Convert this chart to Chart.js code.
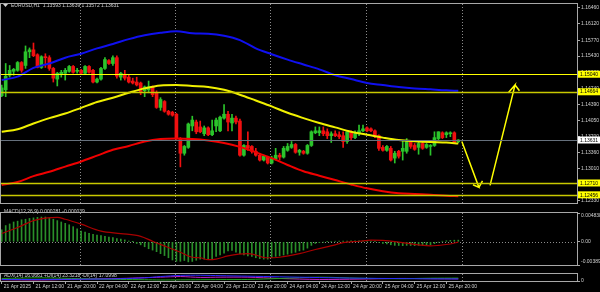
<!doctype html>
<html lang="en">
<head>
<meta charset="utf-8">
<title>EURUSD,H1</title>
<script src="https://cdn.jsdelivr.net/npm/chart.js@4.4.1/dist/chart.umd.min.js"></script>
<style>
  html, body { margin: 0; padding: 0; background: #000; }
  #wrap { position: relative; width: 600px; height: 292px; background: #000; overflow: hidden; }
  .pane { position: absolute; left: 0; width: 600px; }
</style>
</head>
<body>
<div id="wrap">
  <div class="pane" style="top:0;height:207px"><canvas id="priceChart"></canvas></div>
  <div class="pane" style="top:206px;height:66px"><canvas id="macdChart"></canvas></div>
  <div class="pane" style="top:270px;height:22px"><canvas id="adxChart"></canvas></div>
</div>
<script>
// ---- data (H1 bars, 21 Apr 04:00 .. 25 Apr 23:00) ----
const opens = [1.14580,1.14706,1.15019,1.15103,1.15124,1.15291,1.15228,1.15521,1.15563,1.15458,
  1.15186,1.15416,1.15395,1.15165,1.14936,1.15040,1.15061,1.15103,1.15207,1.15103,
  1.15124,1.15061,1.15207,1.15124,1.14873,1.14936,1.15165,1.15333,1.15270,1.15395,
  1.14977,1.15040,1.14977,1.14894,1.14873,1.14852,1.14685,1.14706,1.14768,1.14643,
  1.14329,1.14455,1.14246,1.14225,1.14183,1.13661,1.13347,1.13473,1.13932,1.14016,
  1.13911,1.13765,1.13891,1.13744,1.13932,1.13828,1.14100,1.14183,1.13995,1.14100,
  1.14037,1.13305,1.13514,1.13493,1.13389,1.13305,1.13201,1.13264,1.13138,1.13222,
  1.13305,1.13264,1.13410,1.13473,1.13535,1.13368,1.13389,1.13347,1.13514,1.13786,
  1.13786,1.13828,1.13807,1.13723,1.13765,1.13744,1.13723,1.13598,1.13807,1.13682,
  1.13765,1.13828,1.13891,1.13870,1.13828,1.13723,1.13473,1.13410,1.13452,1.13243,
  1.13389,1.13389,1.13389,1.13598,1.13514,1.13473,1.13556,1.13473,1.13493,1.13514,
  1.13661,1.13786,1.13744,1.13765,1.13786,1.13593];
const highs = [1.14810,1.15270,1.15228,1.15165,1.15312,1.15312,1.15646,1.15604,1.15709,1.15479,
  1.15437,1.15479,1.15437,1.15186,1.15082,1.15124,1.15165,1.15228,1.15228,1.15165,
  1.15145,1.15228,1.15228,1.15145,1.14956,1.15186,1.15395,1.15354,1.15437,1.15437,
  1.15082,1.15124,1.15019,1.14956,1.14977,1.14873,1.14789,1.14894,1.14789,1.14685,
  1.14538,1.14476,1.14267,1.14246,1.14204,1.13682,1.13514,1.13995,1.14141,1.14058,
  1.14037,1.13932,1.13911,1.14058,1.14100,1.14141,1.14392,1.14246,1.14183,1.14141,
  1.14079,1.13535,1.13807,1.13514,1.13452,1.13347,1.13305,1.13284,1.13284,1.13452,
  1.13347,1.13493,1.13556,1.13598,1.13556,1.13431,1.13410,1.13535,1.13828,1.13911,
  1.13911,1.13911,1.13870,1.13807,1.13828,1.13807,1.13807,1.13828,1.13828,1.13828,
  1.13953,1.13953,1.13911,1.13891,1.13849,1.13744,1.13514,1.13514,1.13493,1.13389,
  1.13410,1.13619,1.13661,1.13619,1.13556,1.13598,1.13598,1.13556,1.13535,1.13807,
  1.13807,1.13807,1.13807,1.13807,1.13807,1.13639];
const lows = [1.14559,1.14559,1.14977,1.15019,1.15103,1.15082,1.15165,1.15395,1.15416,1.15176,
  1.15165,1.15186,1.15124,1.14873,1.14789,1.14977,1.14915,1.15082,1.15061,1.15061,
  1.15040,1.15040,1.15061,1.14852,1.14852,1.14915,1.15145,1.15249,1.15228,1.14956,
  1.14915,1.14915,1.14852,1.14831,1.14789,1.14601,1.14559,1.14643,1.14559,1.14309,
  1.14267,1.14225,1.14162,1.14141,1.13640,1.13055,1.13305,1.13452,1.13828,1.13765,
  1.13786,1.13723,1.13723,1.13723,1.13807,1.13807,1.14079,1.13828,1.13828,1.13974,
  1.13284,1.13284,1.13410,1.13347,1.13284,1.13180,1.13180,1.13117,1.13117,1.13201,
  1.13201,1.13243,1.13389,1.13452,1.13347,1.13305,1.13326,1.13326,1.13493,1.13765,
  1.13723,1.13723,1.13661,1.13577,1.13702,1.13661,1.13473,1.13556,1.13619,1.13661,
  1.13723,1.13807,1.13807,1.13807,1.13682,1.13410,1.13389,1.13389,1.13180,1.13138,
  1.13243,1.13201,1.13347,1.13452,1.13410,1.13326,1.13431,1.13452,1.13305,1.13493,
  1.13619,1.13661,1.13682,1.13702,1.13556,1.13572];
const closes = [1.14747,1.14998,1.15124,1.15145,1.15291,1.15124,1.15521,1.15563,1.15437,1.15186,
  1.15416,1.15395,1.15165,1.14956,1.15061,1.15082,1.15124,1.15207,1.15082,1.15124,
  1.15061,1.15207,1.15082,1.14873,1.14936,1.15165,1.15354,1.15270,1.15395,1.14998,
  1.15061,1.14956,1.14873,1.14852,1.14810,1.14664,1.14768,1.14768,1.14601,1.14329,
  1.14497,1.14246,1.14183,1.14162,1.13661,1.13347,1.13493,1.13974,1.14058,1.13807,
  1.13807,1.13891,1.13744,1.13828,1.14058,1.14120,1.14183,1.14016,1.14100,1.14016,
  1.13305,1.13514,1.13452,1.13389,1.13305,1.13201,1.13284,1.13138,1.13243,1.13305,
  1.13264,1.13452,1.13493,1.13535,1.13368,1.13410,1.13347,1.13514,1.13807,1.13828,
  1.13828,1.13765,1.13723,1.13765,1.13723,1.13702,1.13598,1.13807,1.13682,1.13765,
  1.13828,1.13870,1.13828,1.13828,1.13702,1.13452,1.13410,1.13493,1.13201,1.13347,
  1.13284,1.13452,1.13598,1.13493,1.13431,1.13556,1.13452,1.13535,1.13514,1.13682,
  1.13807,1.13682,1.13786,1.13786,1.13577,1.13631];

// moving averages, sampled along the bars
const maIdx = [0,4,8,12,16,20,24,28,32,36,40,44,48,52,56,60,64,68,72,76,80,84,88,92,96,100,104,108,112,115];
const blueMA = [1.14915,1.14988,1.15176,1.15270,1.15395,1.15479,1.15594,1.15688,1.15793,1.15877,
  1.15929,1.15960,1.15918,1.15908,1.15866,1.15772,1.15594,1.15469,1.15354,1.15249,
  1.15145,1.15019,1.14936,1.14852,1.14810,1.14768,1.14737,1.14716,1.14695,1.14685];
const yellowMA = [1.13807,1.13860,1.13985,1.14100,1.14198,1.14319,1.14444,1.14538,1.14643,1.14737,
  1.14800,1.14810,1.14789,1.14768,1.14706,1.14601,1.14476,1.14350,1.14214,1.14100,
  1.13995,1.13901,1.13807,1.13744,1.13682,1.13630,1.13605,1.13588,1.13577,1.13556];
const redMA = [1.12668,1.12731,1.12856,1.12950,1.13061,1.13170,1.13295,1.13421,1.13504,1.13598,
  1.13650,1.13661,1.13650,1.13619,1.13567,1.13483,1.13368,1.13243,1.13096,1.12960,
  1.12866,1.12772,1.12679,1.12595,1.12533,1.12491,1.12474,1.12459,1.12438,1.12428];

// horizontal levels, bid, axis ticks
const levels = [1.15040, 1.14664, 1.12710, 1.12456];
const bidPrice = 1.13631;
const priceTicks = [1.16460,1.16120,1.15770,1.15430,1.15080,1.14740,1.14390,1.14050,1.13700,1.13360,1.13010,1.12670,1.12330];
const priceMin = 1.12281, priceMax = 1.16545;

// hand-drawn arrows: [bar index, price]
const arrowDown = [[115.9, 1.13598], [120.2, 1.12616], [118.7, 1.12672], [120.2, 1.12616], [121.1, 1.12756]];
const arrowUp = [[123.0, 1.12658], [129.3, 1.14810], [127.6, 1.14643], [129.3, 1.14810], [130.4, 1.14685]];

// MACD(12,26,9)
const macdHist = [0.00203,0.00273,0.00300,0.00333,0.00347,0.00370,0.00379,0.00393,0.00402,0.00411,
  0.00416,0.00416,0.00402,0.00379,0.00356,0.00333,0.00310,0.00286,0.00254,0.00217,
  0.00180,0.00162,0.00143,0.00125,0.00111,0.00106,0.00092,0.00079,0.00069,0.00055,
  0.00046,0.00032,0.00014,0.00002,-0.00028,-0.00051,-0.00083,-0.00116,-0.00139,-0.00166,
  -0.00199,-0.00231,-0.00268,-0.00305,-0.00328,-0.00328,-0.00314,-0.00337,-0.00330,-0.00310,
  -0.00291,-0.00291,-0.00291,-0.00282,-0.00245,-0.00222,-0.00189,-0.00152,-0.00143,-0.00176,
  -0.00199,-0.00222,-0.00236,-0.00245,-0.00268,-0.00282,-0.00291,-0.00291,-0.00268,-0.00245,
  -0.00236,-0.00222,-0.00208,-0.00189,-0.00176,-0.00152,-0.00139,-0.00106,-0.00060,-0.00028,
  -0.00014,-0.00005,0.00005,0.00008,0.00010,0.00012,0.00012,0.00014,0.00016,0.00016,
  0.00018,0.00018,0.00015,0.00012,0.00005,-0.00010,-0.00025,-0.00035,-0.00050,-0.00060,
  -0.00062,-0.00065,-0.00060,-0.00062,-0.00065,-0.00060,-0.00062,-0.00058,-0.00050,-0.00030,
  -0.00005,0.00010,0.00018,0.00024,0.00027,0.00028];
const sigIdx = [0,4,8,11.5,14,16,20,25,30,35,38,41.5,45,48,50,52,54,57,62,64,66.5,70,75,79,84,86,90,93,96,100,105,108,110,113,115];
const sigVals = [0.00139,0.00240,0.00356,0.00402,0.00411,0.00379,0.00296,0.00180,0.00139,0.00092,
  0.00009,-0.00083,-0.00176,-0.00259,-0.00268,-0.00300,-0.00291,-0.00236,-0.00199,-0.00222,
  -0.00268,-0.00259,-0.00199,-0.00129,-0.00051,-0.00014,0.00009,0.00028,0.00023,-0.00005,
  -0.00051,-0.00069,-0.00060,-0.00037,-0.00004];
const macdTop = 0.004838, macdBottom = -0.003894;

// ADX(14)
const adxIdx = [0,10,20,30,36,40,45,50,55,62,70,80,90,100,108,115];
const adxMain = [12,12,14,18,25,35,44,45,42,38,33,27,22,19,17,16];
const diPlus = [20,25,18,12,10,8,9,10,11,12,20,30,22,18,22,23];
const diMinus = [10,8,15,20,26,30,35,28,30,30,20,12,15,20,18,17];

// time axis
const timeIdx = [0,8,16,24,32,40,48,56,64,72,80,88,96,104,112];
const timeLabels = ['21 Apr 2025','21 Apr 12:00','21 Apr 20:00','22 Apr 04:00','22 Apr 12:00','22 Apr 20:00',
  '23 Apr 04:00','23 Apr 12:00','23 Apr 20:00','24 Apr 04:00','24 Apr 12:00','24 Apr 20:00',
  '25 Apr 04:00','25 Apr 12:00','25 Apr 20:00'];
const daySepIdx = [19.7, 43.7, 67.7, 91.7, 116];

const xMin = -0.18, xMax = 144.9;

Chart.defaults.font.family = 'Liberation Sans';
Chart.defaults.font.size = 5;
Chart.defaults.animation = false;

const BULL = '#2bc42b', BEAR = '#f01010';
const TXT = '#d0d0d0';
const isBull = i => closes[i] >= opens[i];
const pts = (xs, ys) => xs.map((x, i) => ({x: x, y: ys[i]}));

function frameBits(extraUnder, extraOver) {
  return {
    id: 'frameBits',
    beforeDatasetsDraw(chart) {
      const {ctx, chartArea: a, scales: {x}} = chart;
      ctx.save();
      ctx.strokeStyle = '#8c8c8c';
      ctx.lineWidth = 1;
      ctx.setLineDash([1, 2]);
      daySepIdx.forEach(v => {
        const px = Math.round(x.getPixelForValue(v)) + 0.5;
        ctx.beginPath(); ctx.moveTo(px, a.top); ctx.lineTo(px, a.bottom); ctx.stroke();
      });
      ctx.restore();
      if (extraUnder) extraUnder(chart);
    },
    afterDraw(chart) {
      const {ctx, chartArea: a} = chart;
      if (extraOver) extraOver(chart);
      ctx.save();
      ctx.strokeStyle = '#a8a8a8';
      ctx.lineWidth = 1;
      ctx.strokeRect(a.left - 0.5, a.top - 0.5, a.right - a.left + 1, a.bottom - a.top + 1);
      ctx.restore();
    }
  };
}

function rightAxis(min, max, ticksFn, labelFn) {
  return {
    position: 'right', min: min, max: max,
    afterFit: s => { s.width = 23; },
    afterBuildTicks: s => { s.ticks = ticksFn().map(v => ({value: v})); },
    ticks: { autoSkip: false, color: TXT, padding: 1, callback: labelFn },
    grid: { drawOnChartArea: false, tickLength: 3, color: '#a8a8a8' },
    border: { display: false }
  };
}
const hiddenX = { type: 'linear', min: xMin, max: xMax, display: false, offset: false };

// ---------------- price pane ----------------
const pricePlugin = frameBits(null, chart => {
  const {ctx, chartArea: a, scales: {y}} = chart;
  ctx.save();
  // bid line
  const by = Math.round(y.getPixelForValue(bidPrice)) + 0.5;
  ctx.strokeStyle = '#66707c'; ctx.lineWidth = 1;
  ctx.beginPath(); ctx.moveTo(a.left, by); ctx.lineTo(a.right, by); ctx.stroke();
  // horizontal levels
  levels.forEach((v, i) => {
    const py = Math.round(y.getPixelForValue(v)) + 0.5;
    ctx.strokeStyle = i === 0 ? '#ffff00' : '#c8c800';
    ctx.lineWidth = i === 0 ? 1 : 1.4;
    ctx.beginPath(); ctx.moveTo(a.left, py); ctx.lineTo(a.right, py); ctx.stroke();
  });
  // price boxes on the axis
  ctx.font = '5px Liberation Sans';
  ctx.textBaseline = 'middle';
  const box = (v, fill) => {
    const py = y.getPixelForValue(v);
    ctx.fillStyle = fill; ctx.fillRect(a.right + 1, py - 3.5, 22, 7);
    ctx.fillStyle = '#000'; ctx.fillText(v.toFixed(5), a.right + 3, py + 0.3);
  };
  levels.forEach(v => box(v, '#ffff00'));
  box(bidPrice, '#ffffff');
  // symbol caption
  ctx.fillStyle = TXT;
  ctx.beginPath(); ctx.moveTo(3, 4); ctx.lineTo(8, 4); ctx.lineTo(5.5, 7); ctx.closePath(); ctx.fill();
  ctx.fillText('EURUSD,H1  1.13593 1.13639 1.13572 1.13631', 11, 5.5);
  ctx.restore();
});

new Chart(document.getElementById('priceChart'), {
  type: 'bar',
  data: {
    datasets: [
      { type: 'line', label: 'arrow1', data: arrowDown.map(p => ({x: p[0], y: p[1]})), borderColor: '#ffff00', borderWidth: 1.5, pointRadius: 0, order: 0 },
      { type: 'line', label: 'arrow2', data: arrowUp.map(p => ({x: p[0], y: p[1]})), borderColor: '#ffff00', borderWidth: 1.5, pointRadius: 0, order: 0 },
      { type: 'line', label: 'MA blue', data: pts(maIdx, blueMA), borderColor: '#1010f0', borderWidth: 2, pointRadius: 0, cubicInterpolationMode: 'monotone', order: 1 },
      { type: 'line', label: 'MA yellow', data: pts(maIdx, yellowMA), borderColor: '#f0f000', borderWidth: 2, pointRadius: 0, cubicInterpolationMode: 'monotone', order: 1 },
      { type: 'line', label: 'MA red', data: pts(maIdx, redMA), borderColor: '#f00000', borderWidth: 2, pointRadius: 0, cubicInterpolationMode: 'monotone', order: 1 },
      { label: 'body', data: opens.map((o, i) => ({x: i, y: [o, closes[i]]})), barThickness: 3, minBarLength: 1, grouped: false,
        backgroundColor: c => isBull(c.dataIndex) ? BULL : BEAR, order: 2 },
      { label: 'wick', data: opens.map((o, i) => ({x: i, y: [lows[i], highs[i]]})), barThickness: 1, grouped: false,
        backgroundColor: c => isBull(c.dataIndex) ? BULL : BEAR, order: 3 }
    ]
  },
  options: {
    responsive: true, maintainAspectRatio: false, events: [],
    layout: { padding: { left: 1, top: 2, right: 0, bottom: 1 } },
    plugins: { legend: { display: false }, tooltip: { enabled: false } },
    scales: {
      x: hiddenX,
      y: rightAxis(priceMin, priceMax, () => priceTicks, v => v.toFixed(5))
    }
  },
  plugins: [pricePlugin]
});

// ---------------- MACD pane ----------------
const macdPlugin = frameBits(chart => {
  const {ctx, chartArea: a, scales: {y}} = chart;
  const zy = Math.round(y.getPixelForValue(0)) + 0.5;
  ctx.save();
  ctx.strokeStyle = '#8c8c8c'; ctx.setLineDash([1, 2]);
  ctx.beginPath(); ctx.moveTo(a.left, zy); ctx.lineTo(a.right, zy); ctx.stroke();
  ctx.restore();
}, chart => {
  const {ctx} = chart;
  ctx.save();
  ctx.font = '5px Liberation Sans'; ctx.textBaseline = 'middle'; ctx.fillStyle = TXT;
  ctx.fillText('MACD(12,26,9) 0.000281 -0.000039', 4, 211.5 - 206);
  ctx.restore();
});

new Chart(document.getElementById('macdChart'), {
  type: 'bar',
  data: {
    datasets: [
      { type: 'line', label: 'Signal', data: pts(sigIdx, sigVals), borderColor: '#a80000', borderWidth: 1.2, pointRadius: 0, cubicInterpolationMode: 'monotone', order: 0 },
      { label: 'MACD', data: macdHist.map((v, i) => ({x: i, y: v})), barThickness: 1, grouped: false, backgroundColor: '#2a8f2a', order: 1 }
    ]
  },
  options: {
    responsive: true, maintainAspectRatio: false, events: [],
    layout: { padding: { left: 1, top: 1, right: 0, bottom: 2 } },
    plugins: { legend: { display: false }, tooltip: { enabled: false } },
    scales: {
      x: hiddenX,
      y: rightAxis(macdBottom, macdTop, () => [macdBottom, 0, macdTop], v =>
        v === macdTop ? ['', v.toFixed(6)] : v === macdBottom ? [v.toFixed(6), ''] : '0.00')
    }
  },
  plugins: [macdPlugin]
});

// ---------------- ADX pane ----------------
const adxPlugin = frameBits(null, chart => {
  const {ctx} = chart;
  ctx.save();
  ctx.font = '5px Liberation Sans'; ctx.textBaseline = 'middle'; ctx.fillStyle = TXT;
  ctx.fillText('ADX(14) 16.0661 +DI(14) 23.3218 -DI(14) 17.0998', 4, 276 - 270);
  ctx.restore();
});

new Chart(document.getElementById('adxChart'), {
  type: 'line',
  data: {
    datasets: [
      { label: 'ADX', data: pts(adxIdx, adxMain), borderColor: '#2a2aff', borderWidth: 1, pointRadius: 0, tension: 0.3 },
      { label: '+DI', data: pts(adxIdx, diPlus), borderColor: '#20a020', borderWidth: 1, pointRadius: 0, tension: 0.3 },
      { label: '-DI', data: pts(adxIdx, diMinus), borderColor: '#c020c0', borderWidth: 1, pointRadius: 0, tension: 0.3 }
    ]
  },
  options: {
    responsive: true, maintainAspectRatio: false, events: [],
    layout: { padding: { left: 1, top: 2, right: 0, bottom: 0 } },
    plugins: { legend: { display: false }, tooltip: { enabled: false } },
    scales: {
      x: {
        type: 'linear', min: xMin, max: xMax, offset: false,
        afterFit: s => { s.height = 11; },
        afterBuildTicks: s => { s.ticks = timeIdx.map(v => ({value: v})); },
        ticks: { autoSkip: false, maxRotation: 0, minRotation: 0, align: 'start', labelOffset: 2, padding: 0, color: TXT,
          callback: (v, i) => timeLabels[i] },
        grid: { drawOnChartArea: false, tickLength: 3, color: '#a8a8a8' },
        border: { display: false }
      },
      y: rightAxis(0, 55, () => [0], () => '0')
    }
  },
  plugins: [adxPlugin]
});
</script>
</body>
</html>
